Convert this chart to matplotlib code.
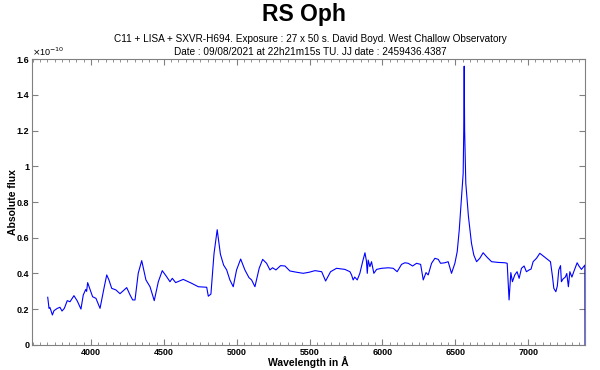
import matplotlib.pyplot as plt
from matplotlib.ticker import MultipleLocator, FuncFormatter

plt.rcParams['font.family'] = ['Liberation Sans', 'DejaVu Sans']

# spectrum (flux in units of 1e-10)
wavelength = [3703, 3712, 3718, 3724, 3735, 3746, 3769, 3787, 3801, 3817,
              3837, 3856, 3883, 3906, 3931, 3947, 3964, 3970, 3977, 3993,
              4011, 4034, 4062, 4089, 4108, 4123, 4142, 4171, 4199, 4245,
              4268, 4286, 4302, 4324, 4348, 4377, 4405, 4434, 4462, 4489,
              4519, 4542, 4558, 4581, 4633, 4691, 4736, 4794, 4805, 4823,
              4844, 4866, 4888, 4910, 4931, 4953, 4976, 4999, 5027, 5056,
              5084, 5102, 5125, 5154, 5178, 5205, 5228, 5246, 5269, 5301,
              5331, 5365, 5411, 5456, 5497, 5537, 5583, 5610, 5644, 5685,
              5742, 5777, 5788, 5799, 5810, 5827, 5845, 5864, 5880, 5890,
              5896, 5902, 5914, 5925, 5941, 5960, 5994, 6040, 6074, 6101,
              6131, 6154, 6177, 6207, 6234, 6262, 6280, 6299, 6314, 6337,
              6360, 6383, 6399, 6428, 6451, 6474, 6497, 6513, 6527, 6545,
              6554, 6558, 6561, 6564, 6572, 6590, 6611, 6627, 6646, 6668,
              6691, 6718, 6749, 6794, 6840, 6856, 6869, 6881, 6892, 6908,
              6924, 6938, 6954, 6972, 6988, 7007, 7020, 7034, 7057, 7080,
              7114, 7153, 7167, 7176, 7190, 7200, 7210, 7222, 7228, 7240,
              7255, 7265, 7276, 7286, 7300, 7313, 7336, 7350, 7366, 7389,
              7390]
flux = [0.267, 0.205, 0.210, 0.196, 0.168, 0.192, 0.205, 0.211, 0.190, 0.205,
        0.248, 0.242, 0.276, 0.246, 0.201, 0.280, 0.311, 0.300, 0.349, 0.311,
        0.270, 0.261, 0.205, 0.317, 0.392, 0.364, 0.317, 0.308, 0.287, 0.321,
        0.280, 0.252, 0.252, 0.401, 0.472, 0.364, 0.326, 0.248, 0.354, 0.416,
        0.382, 0.354, 0.373, 0.349, 0.367, 0.345, 0.326, 0.323, 0.273, 0.285,
        0.510, 0.645, 0.508, 0.447, 0.420, 0.364, 0.326, 0.420, 0.481, 0.420,
        0.377, 0.364, 0.326, 0.429, 0.479, 0.457, 0.420, 0.432, 0.420, 0.444,
        0.442, 0.414, 0.407, 0.401, 0.407, 0.416, 0.410, 0.358, 0.410, 0.429,
        0.423, 0.410, 0.392, 0.364, 0.380, 0.364, 0.401, 0.466, 0.516, 0.470,
        0.401, 0.475, 0.438, 0.466, 0.401, 0.423, 0.429, 0.432, 0.429, 0.410,
        0.451, 0.460, 0.457, 0.442, 0.457, 0.451, 0.364, 0.405, 0.392, 0.457,
        0.485, 0.479, 0.457, 0.460, 0.466, 0.401, 0.457, 0.522, 0.643, 0.850,
        0.960, 1.200, 1.560, 1.200, 0.905, 0.720, 0.569, 0.503, 0.466, 0.485,
        0.516, 0.491, 0.466, 0.462, 0.460, 0.457, 0.252, 0.405, 0.354, 0.392,
        0.410, 0.373, 0.429, 0.442, 0.410, 0.420, 0.425, 0.466, 0.485, 0.513,
        0.491, 0.466, 0.382, 0.317, 0.298, 0.330, 0.420, 0.444, 0.354, 0.370,
        0.380, 0.400, 0.326, 0.410, 0.380, 0.410, 0.460, 0.440, 0.423, 0.447,
        0.0]

fig = plt.figure(figsize=(6, 3.7), dpi=100)
ax = fig.add_axes([0.0533, 0.0676, 0.9217, 0.7729])
ax.plot(wavelength, flux, color='#0000ff', linewidth=0.8)

ax.set_xlim(3595, 7390)
ax.set_ylim(0, 1.6)
ax.xaxis.set_major_locator(MultipleLocator(500))
ax.xaxis.set_minor_locator(MultipleLocator(50))
ax.yaxis.set_major_locator(MultipleLocator(0.2))
ax.yaxis.set_major_formatter(FuncFormatter(lambda v, p: f'{v:g}'))
ax.tick_params(which='both', direction='in', top=True, right=True,
               color='#808080', labelsize=6.5, pad=2)
ax.tick_params(which='major', length=4)
ax.tick_params(which='minor', length=2.5)
for lab in ax.get_xticklabels() + ax.get_yticklabels():
    lab.set_fontweight('bold')
for s in ax.spines.values():
    s.set_color('#808080')

ax.text(0.0, 1.005, r'$\times$10$^{-10}$', transform=ax.transAxes,
        fontsize=6.5, ha='left', va='bottom')
ax.set_xlabel('Wavelength in Å', fontsize=7.5, fontweight='bold', va='center')
ax.set_ylabel('Absolute flux', fontsize=7.5, fontweight='bold', va='center')
ax.xaxis.set_label_coords(0.5, -0.06)
ax.yaxis.set_label_coords(-0.034, 0.5)

fig.text(0.507, 0.962, 'RS Oph', fontsize=16.5, fontweight='bold', ha='center', va='center')
fig.text(0.517, 0.895, 'C11 + LISA + SXVR-H694. Exposure : 27 x 50 s. David Boyd. West Challow Observatory',
         fontsize=7.2, ha='center', va='center')
fig.text(0.517, 0.86, 'Date : 09/08/2021 at 22h21m15s TU. JJ date : 2459436.4387',
         fontsize=7.2, ha='center', va='center')

fig.savefig('out.png', dpi=100)
